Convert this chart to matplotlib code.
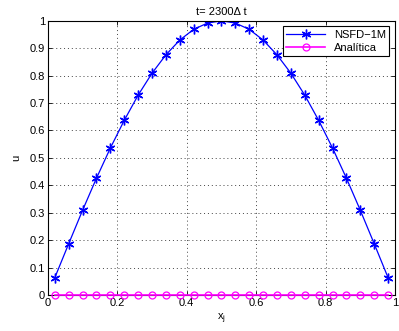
import numpy as np
import matplotlib
matplotlib.use('Agg')
import matplotlib.pyplot as plt

# dados
x = [0.02, 0.06, 0.10, 0.14, 0.18, 0.22, 0.26, 0.30, 0.34, 0.38, 0.42, 0.46, 0.50,
     0.54, 0.58, 0.62, 0.66, 0.70, 0.74, 0.78, 0.82, 0.86, 0.90, 0.94, 0.98]
u_nsfd = [0.063, 0.187, 0.309, 0.426, 0.536, 0.637, 0.729, 0.809, 0.876, 0.930, 0.969, 0.992, 1.0,
          0.992, 0.969, 0.930, 0.876, 0.809, 0.729, 0.637, 0.536, 0.426, 0.309, 0.187, 0.063]
u_analitica = [0.0] * 25

xticks = [0, 0.2, 0.4, 0.6, 0.8, 1]
yticks = [0, 0.1, 0.2, 0.3, 0.4, 0.5, 0.6, 0.7, 0.8, 0.9, 1]

plt.rcParams['font.family'] = ['Liberation Sans', 'DejaVu Sans']
plt.rcParams['font.size'] = 8

fig = plt.figure(figsize=(3.99, 3.31), dpi=100)
ax = fig.add_axes([0.120, 0.109, 0.870, 0.828])

asterisco = (6, 2, 0)
ax.plot(x, u_nsfd, '-', marker=asterisco, color='blue', lw=0.9, ms=7, mew=1.0, label='NSFD\u22121M')
ax.plot(x, u_analitica, '-o', color='magenta', lw=1.2, ms=5, mfc='none', mew=0.9,
        label='Anal\u00edtica', clip_on=False, zorder=5)

ax.set_xlim(0, 1)
ax.set_ylim(0, 1)
ax.set_xticks(xticks)
ax.set_xticklabels(['0', '0.2', '0.4', '0.6', '0.8', '1'])
ax.set_yticks(yticks)
ax.set_yticklabels(['0', '0.1', '0.2', '0.3', '0.4', '0.5', '0.6', '0.7', '0.8', '0.9', '1'])
ax.tick_params(direction='in', top=True, right=True, length=3, width=0.6, pad=2)
ax.grid(True, linestyle=(0, (1, 3)), color='#444444', lw=0.7)
for s in ax.spines.values():
    s.set_linewidth(0.8)

ax.set_title('t= 2300\u0394 t', fontsize=8, pad=4)
ax.set_xlabel('x$_\\mathregular{j}$', labelpad=3)
ax.set_ylabel('u', labelpad=6)

leg = ax.legend(loc='upper right', fancybox=False, edgecolor='black', framealpha=1,
                borderaxespad=0.5, handlelength=3.5, labelspacing=0.3, borderpad=0.3)
leg.get_frame().set_linewidth(0.8)

plt.savefig('out.png', dpi=100)
